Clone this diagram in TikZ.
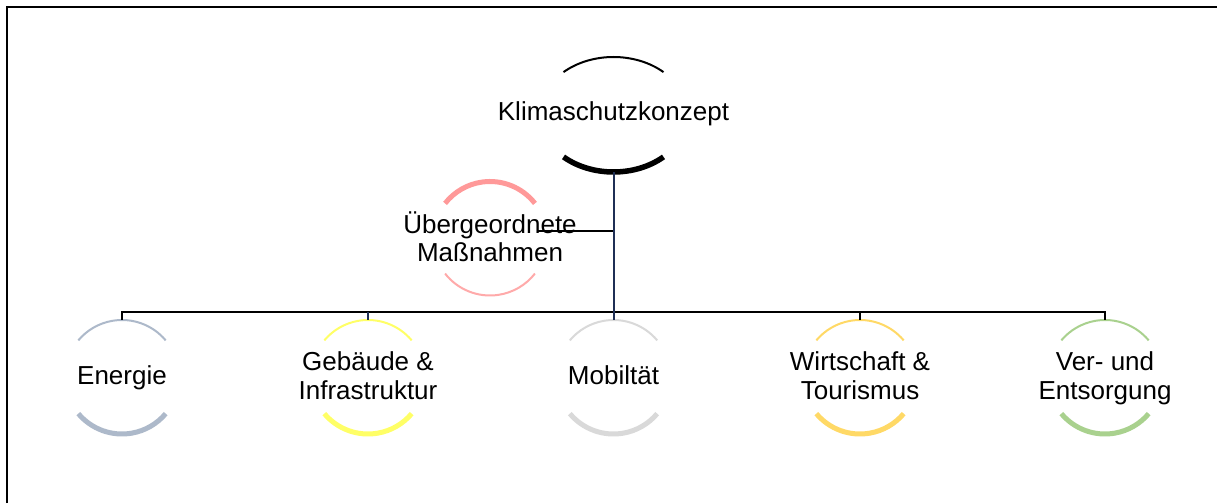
\documentclass[tikz,border=0pt]{standalone}
\usepackage{fontspec}
\setmainfont{Liberation Sans}
\usetikzlibrary{calc}
\definecolor{cpink}{HTML}{FF9999}
\definecolor{cpinklt}{HTML}{FFAAAA}
\definecolor{cblue}{HTML}{ADB9CA}
\definecolor{cyel}{HTML}{FFFF66}
\definecolor{cgray}{HTML}{D9D9D9}
\definecolor{cgold}{HTML}{FFD966}
\definecolor{cgreen}{HTML}{A9D18E}
\definecolor{navy}{HTML}{1F2F55}
\begin{document}
\begin{tikzpicture}[x=1pt,y=1pt,
  lbl/.style={font=\fontsize{26}{28.5}\selectfont, align=center, inner sep=0pt},
  thinarc/.style={line width=2pt},
  thickarc/.style={line width=5pt},
  conn/.style={line width=2pt, black},
  trunk/.style={line width=2pt, navy}]
\useasboundingbox (0,0) rectangle (1217,503);
\fill[white] (0,0) rectangle (1217,503);
\draw[line width=2pt] (7,0) -- (7,496) -- (1217,496);

% nodes (text boxes, slightly below the centres of their arcs)
\node[lbl] (k) at (613.5,387.7) {\strut Klimaschutzkonzept};
\node[lbl] (ue) at (490,262) {\strut Übergeordnete\\\strut Maßnahmen};
\node[lbl] (c1) at (122,123.7) {\strut Energie};
\node[lbl] (c2) at (368,123.7) {\strut Gebäude \&\\\strut Infrastruktur};
\node[lbl] (c3) at (613.5,123.7) {\strut Mobiltät};
\node[lbl] (c4) at (860,123.7) {\strut Wirtschaft \&\\\strut Tourismus};
\node[lbl] (c5) at (1105,123.7) {\strut Ver- und\\\strut Entsorgung};

% arc centres
\coordinate (ko) at ($(k)+(0,0.8)$);
\coordinate (ueo) at ($(ue)+(0,2.5)$);
\foreach \n in {c1,c2,c3,c4,c5}{
  \coordinate (\n o) at ($(\n)+(0,2.3)$);
}

% arcs of top node
\draw[thinarc] ($(ko)+(47.5:74pt and 57.5pt)$) arc[start angle=47.5, end angle=132.5, x radius=74pt, y radius=57.5pt];
\draw[line width=5.5pt] ($(ko)+(227.5:74pt and 57.5pt)$) arc[start angle=227.5, end angle=312.5, x radius=74pt, y radius=57.5pt];

% arcs of Uebergeordnete
\draw[thickarc, cpink] ($(ueo)+(38:57pt)$) arc[start angle=38, end angle=142, radius=57pt];
\draw[thinarc, cpinklt] ($(ueo)+(218:57pt)$) arc[start angle=218, end angle=322, radius=57pt];

% arcs of children
\foreach \n/\c in {c1/cblue, c2/cyel, c3/cgray, c4/cgold, c5/cgreen}{
  \draw[thinarc, \c] ($(\n o)+(40:57pt)$) arc[start angle=40, end angle=140, radius=57pt];
  \draw[thickarc, \c] ($(\n o)+(220:57pt)$) arc[start angle=220, end angle=320, radius=57pt];
}

% connector points
\coordinate (kb) at ($(ko)+(0,-57.5)$);
\coordinate (busy) at ($(c1o)+(0,64.5)$);
\coordinate (ueR) at ($(ueo)+(47,7.5)$);
\foreach \n in {c1,c2,c3,c4,c5}{
  \coordinate (\n t) at ($(\n o)+(0,57)$);
}

% connectors
\draw[conn] (c1t) -- (c1t |- busy) -- (c5t |- busy) -- (c5t);
\draw[conn] (c4t) -- (c4t |- busy);
\draw[trunk] (c2t) -- (c2t |- busy);
\draw[conn] (ueR) -- (kb |- ueR);
\draw[trunk] (kb) -- (c3t);
\end{tikzpicture}
\end{document}
